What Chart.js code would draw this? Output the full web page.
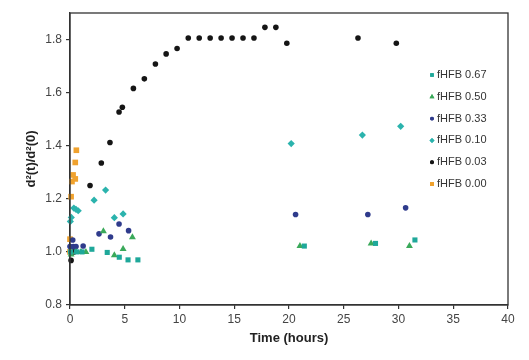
<!DOCTYPE html>
<html>
<head>
<meta charset="utf-8">
<script src="https://cdn.jsdelivr.net/npm/chart.js@4/dist/chart.umd.min.js"></script>
<style>
  html, body { margin: 0; padding: 0; background: #fff; }
  #wrap { width: 529px; height: 360px; }
</style>
</head>
<body>
<div id="wrap"><canvas id="chart" width="529" height="360"></canvas></div>
<script>
// values (time in hours, d²(t)/d²(0))
const xTicks = [0, 5, 10, 15, 20, 25, 30, 35, 40];
const yTicks = [0.8, 1.0, 1.2, 1.4, 1.6, 1.8];

const labels = ['fHFB 0.67', 'fHFB 0.50', 'fHFB 0.33', 'fHFB 0.10', 'fHFB 0.03', 'fHFB 0.00'];

const time067 = [0.05, 0.6, 1.1, 2.0, 3.4, 4.5, 5.3, 6.2, 21.4, 27.9, 31.5];
const ratio067 = [1.0, 1.0, 1.0, 1.01, 0.998, 0.98, 0.97, 0.97, 1.022, 1.032, 1.045];

const time050 = [0.1, 0.55, 1.0, 1.45, 3.05, 4.05, 4.85, 5.7, 21.0, 27.5, 31.0];
const ratio050 = [0.99, 1.0, 1.0, 1.0, 1.078, 0.987, 1.011, 1.055, 1.022, 1.032, 1.022];

const time033 = [0.0, 0.25, 0.3, 0.55, 1.2, 2.65, 3.7, 4.48, 5.35, 20.6, 27.2, 30.65];
const ratio033 = [1.02, 1.045, 1.02, 1.02, 1.022, 1.068, 1.056, 1.105, 1.08, 1.141, 1.141, 1.166];

const time010 = [0.03, 0.12, 0.35, 0.55, 0.75, 2.2, 3.25, 4.05, 4.85, 20.2, 26.7, 30.2];
const ratio010 = [1.115, 1.13, 1.165, 1.16, 1.155, 1.195, 1.233, 1.129, 1.143, 1.408, 1.44, 1.473];

const time003 = [0.1, 0.35, 1.83, 2.86, 3.65, 4.48, 4.78, 5.79, 6.79, 7.8, 8.78, 9.78,
  10.8, 11.8, 12.8, 13.8, 14.8, 15.8, 16.8, 17.8, 18.8, 19.8, 26.3, 29.8];
const ratio003 = [0.968, 1.0, 1.25, 1.335, 1.412, 1.527, 1.545, 1.616, 1.652, 1.708, 1.746, 1.766,
  1.806, 1.806, 1.806, 1.806, 1.806, 1.806, 1.806, 1.846, 1.846, 1.786, 1.806, 1.786];

const time000 = [0.0, 0.0, 0.1, 0.18, 0.28, 0.48, 0.48, 0.58];
const ratio000 = [1.0, 1.048, 1.208, 1.265, 1.29, 1.275, 1.337, 1.383];

const toPoints = (xs, ys) => xs.map((x, i) => ({ x, y: ys[i] }));

const styles = [
  { color: '#1fa89a', pointStyle: 'rect', radius: 3.6 },
  { color: '#3aa95a', pointStyle: 'triangle', radius: 4 },
  { color: '#2f3b8c', pointStyle: 'circle', radius: 2.8 },
  { color: '#2bb3ad', pointStyle: 'rectRot', radius: 3.6 },
  { color: '#151515', pointStyle: 'circle', radius: 2.8 },
  { color: '#f0a22e', pointStyle: 'rect', radius: 4 },
];

const series = [
  toPoints(time067, ratio067),
  toPoints(time050, ratio050),
  toPoints(time033, ratio033),
  toPoints(time010, ratio010),
  toPoints(time003, ratio003),
  toPoints(time000, ratio000),
];

const datasets = series.map((data, i) => ({
  label: labels[i],
  data,
  pointStyle: styles[i].pointStyle,
  pointRadius: styles[i].radius,
  pointHoverRadius: styles[i].radius,
  pointBackgroundColor: styles[i].color,
  pointBorderColor: styles[i].color,
  pointBorderWidth: 0,
  showLine: false,
  clip: false,
}));

// frame round the plot area
const framePlugin = {
  id: 'frame',
  afterDraw(chart) {
    const { ctx, chartArea: a } = chart;
    ctx.save();
    ctx.strokeStyle = '#333';
    ctx.lineWidth = 1.3;
    ctx.strokeRect(a.left, a.top, a.right - a.left, a.bottom - a.top);
    ctx.restore();
  },
};

// legend inside the plot, on the right
const legendPlugin = {
  id: 'innerLegend',
  afterDatasetsDraw(chart) {
    const { ctx } = chart;
    ctx.save();
    ctx.font = '11px "Liberation Sans", Arial, sans-serif';
    ctx.textBaseline = 'middle';
    chart.data.datasets.forEach((ds, i) => {
      const y = 75 + i * 21.8;
      ctx.fillStyle = styles[i].color;
      Chart.helpers.drawPoint(ctx, {
        pointStyle: styles[i].pointStyle,
        radius: styles[i].radius * 0.7,
        rotation: 0,
        borderWidth: 0,
      }, 432, y);
      ctx.fill();
      ctx.fillStyle = '#333';
      ctx.fillText(ds.label, 437, y);
    });
    ctx.restore();
  },
};

const tickFont = { family: '"Liberation Sans", Arial, sans-serif', size: 12 };
const titleFont = { family: '"Liberation Sans", Arial, sans-serif', size: 13, weight: 'bold' };

new Chart(document.getElementById('chart'), {
  type: 'scatter',
  data: { datasets },
  options: {
    responsive: false,
    animation: false,
    layout: { padding: { top: 13, right: 21, left: 0, bottom: 0 } },
    plugins: {
      legend: { display: false },
      tooltip: { enabled: false },
    },
    scales: {
      x: {
        type: 'linear',
        min: 0,
        max: 40,
        afterFit: (scale) => { scale.height = 55; },
        afterBuildTicks: (scale) => { scale.ticks = xTicks.map((v) => ({ value: v })); },
        ticks: { color: '#444', font: tickFont, padding: 3, maxRotation: 0 },
        grid: { drawOnChartArea: false, drawTicks: true, tickLength: 4, color: '#333', lineWidth: 1.2 },
        border: { display: true, color: '#333', width: 1.3 },
        title: { display: true, text: 'Time (hours)', color: '#222', font: titleFont, padding: { top: 0, bottom: 14 } },
      },
      y: {
        type: 'linear',
        min: 0.8,
        max: 1.9,
        afterFit: (scale) => { scale.width = 70; },
        afterBuildTicks: (scale) => { scale.ticks = yTicks.map((v) => ({ value: v })); },
        ticks: { color: '#444', font: tickFont, padding: 4, callback: (v) => v.toFixed(1) },
        grid: { drawOnChartArea: false, drawTicks: true, tickLength: 4, color: '#333', lineWidth: 1.2 },
        border: { display: true, color: '#333', width: 1.3 },
        title: { display: true, text: 'd²(t)/d²(0)', color: '#222', font: titleFont, padding: { top: 24, bottom: 0 } },
      },
    },
  },
  plugins: [framePlugin, legendPlugin],
});
</script>
</body>
</html>
